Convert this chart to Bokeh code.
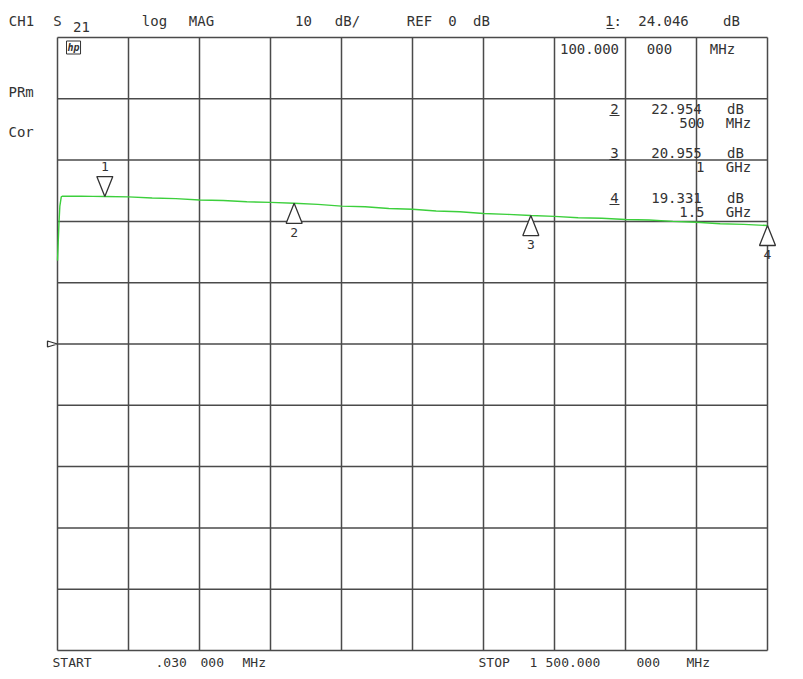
from bokeh.plotting import figure
from bokeh.models import Range1d, Label
from bokeh.embed import file_html
from bokeh.resources import INLINE

freq_mhz = [0.03, 1.5, 3, 5, 8, 10, 25, 50, 75, 100, 150, 200, 250, 300, 350,
            400, 450, 500, 550, 600, 650, 700, 750, 800, 850, 900, 950, 1000,
            1050, 1100, 1150, 1200, 1250, 1300, 1350, 1400, 1450, 1500]
s21_db = [13.6, 16.5, 19.5, 22.5, 24.0, 24.1, 24.1, 24.1, 24.08, 24.05, 24.0,
          23.82, 23.72, 23.5, 23.42, 23.2, 23.1, 22.95, 22.78, 22.5, 22.38,
          22.1, 21.98, 21.7, 21.58, 21.3, 21.15, 20.96, 20.82, 20.6, 20.52,
          20.3, 20.22, 20.0, 19.86, 19.62, 19.52, 19.33]

marker_ids = ["1", "2", "3", "4"]
marker_mhz = [100, 500, 1000, 1500]
marker_db = [24.046, 22.954, 20.955, 19.331]
marker_db_text = ["24.046", "22.954", "20.955", "19.331"]
marker_freq_text = ["100.000 000 MHz", "500 MHz", "1 GHz", "1.5 GHz"]

start_mhz = 0.03
stop_mhz = 1500
ref_db = 0
scale_db = 10
n_div = 10

# ---- layout (canvas pixel placement of the graticule) ----
W, H = 795, 671
FW, FH = 710, 613
LEFT, TOP = 57, 37
X0, X1 = start_mhz, stop_mhz
Y0, Y1 = ref_db - 5 * scale_db, ref_db + 5 * scale_db
DX = (X1 - X0) / FW
DY = (Y1 - Y0) / FH


def px(xp):
    return X0 + (xp - LEFT) * DX


def py(yp):
    return Y1 - (yp - TOP) * DY


p = figure(width=W, height=H,
           x_range=Range1d(px(0), px(W)), y_range=Range1d(py(H), py(0)),
           x_axis_location=None, y_axis_location=None,
           toolbar_location=None, output_backend="svg",
           min_border_left=0, min_border_right=0,
           min_border_top=0, min_border_bottom=0)
p.background_fill_color = "white"
p.border_fill_color = "white"
p.outline_line_color = None
p.grid.grid_line_color = None

GRID_COLOR = "#4a4a4a"
xgrid = [X0 + k * (X1 - X0) / n_div for k in range(n_div + 1)]
ygrid = [Y0 + k * (Y1 - Y0) / n_div for k in range(n_div + 1)]
p.segment(x0=xgrid, x1=xgrid, y0=[Y0] * len(xgrid), y1=[Y1] * len(xgrid),
          line_color=GRID_COLOR, line_width=1.5)
p.segment(x0=[X0] * len(ygrid), x1=[X1] * len(ygrid), y0=ygrid, y1=ygrid,
          line_color=GRID_COLOR, line_width=1.5)

# trace
p.line(freq_mhz, s21_db, line_color="#3ccf3c", line_width=1.4)

TXT = "#333333"
FONT = "DejaVu Sans Mono"
FS = "14px"


def lab(xp, yp, t, size=FS, align="center", style="normal"):
    p.add_layout(Label(x=px(xp), y=py(yp), text=t, text_font=FONT,
                       text_font_size=size, text_align=align,
                       text_baseline="middle", text_color=TXT,
                       text_font_style=style))


ul_x0, ul_x1, ul_y = [], [], []


def uline(xa, xb, yp):
    ul_x0.append(px(xa))
    ul_x1.append(px(xb))
    ul_y.append(py(yp))


# marker triangles
HW, HT = 8, 20
tri_xs, tri_ys = [], []
for i, (f, v) in enumerate(zip(marker_mhz, marker_db)):
    if i == 0:
        ys = [v, v + HT * DY, v + HT * DY]
        num_y = v + (HT + 10) * DY
    else:
        ys = [v, v - HT * DY, v - HT * DY]
        num_y = v - (HT + 9) * DY
    tri_xs.append([f, f - HW * DX, f + HW * DX])
    tri_ys.append(ys)
    p.add_layout(Label(x=f, y=num_y, text=marker_ids[i], text_font=FONT,
                       text_font_size="13px", text_align="center",
                       text_baseline="middle", text_color=TXT))

# reference level pointer
tri_xs.append([X0 - 10 * DX, X0 - 10 * DX, X0])
tri_ys.append([ref_db + 3 * DY, ref_db - 3 * DY, ref_db])
p.patches(tri_xs, tri_ys, fill_color="white", line_color="#333333",
          line_width=1.3)

# header
lab(21, 20, "CH1")
lab(57, 20, "S")
lab(81, 26, "21")
lab(154, 20, "log")
lab(201, 20, "MAG")
lab(303, 20, "10")
lab(347, 20, "dB/")
lab(419, 20, "REF")
lab(452, 20, "0")
lab(481, 20, "dB")
lab(613, 20, "1:")
uline(606, 614, 28)
lab(663, 20, marker_db_text[0])
lab(731, 20, "dB")

# marker 1 frequency inside the graticule
f1 = marker_freq_text[0].split(" ")
lab(589, 48, f1[0])
lab(659, 48, f1[1])
lab(722, 48, f1[2])

# hp logo
p.add_layout(Label(x=px(66), y=py(47), text="hp", text_font=FONT,
                   text_font_size="10px", text_font_style="bold italic",
                   text_baseline="middle", text_align="left", text_color=TXT,
                   border_line_color=TXT, border_line_width=1,
                   padding=1))

# side annotations
lab(8, 91, "PRm", align="left")
lab(8, 131, "Cor", align="left")

# marker readouts 2..4
rows = [108, 152, 197]
for k, yr in enumerate(rows):
    i = k + 1
    lab(614, yr, marker_ids[i])
    uline(609, 619, yr + 7)
    lab(676, yr, marker_db_text[i])
    lab(735, yr, "dB")
    fv, fu = marker_freq_text[i].split(" ")
    lab(704, yr + 14, fv, align="right")
    lab(738, yr + 14, fu)

p.segment(x0=ul_x0, x1=ul_x1, y0=ul_y, y1=ul_y, line_color=TXT,
          line_width=1.2)

# footer
FY, FFS = 662, "13px"
lab(52, FY, "START", size=FFS, align="left")
lab(155, FY, ".030", size=FFS, align="left")
lab(200, FY, "000", size=FFS, align="left")
lab(242, FY, "MHz", size=FFS, align="left")
lab(478, FY, "STOP", size=FFS, align="left")
lab(529, FY, "1", size=FFS, align="left")
lab(545, FY, "500.000", size=FFS, align="left")
lab(636, FY, "000", size=FFS, align="left")
lab(686, FY, "MHz", size=FFS, align="left")

open("out.html", "w").write(file_html(p, INLINE))
